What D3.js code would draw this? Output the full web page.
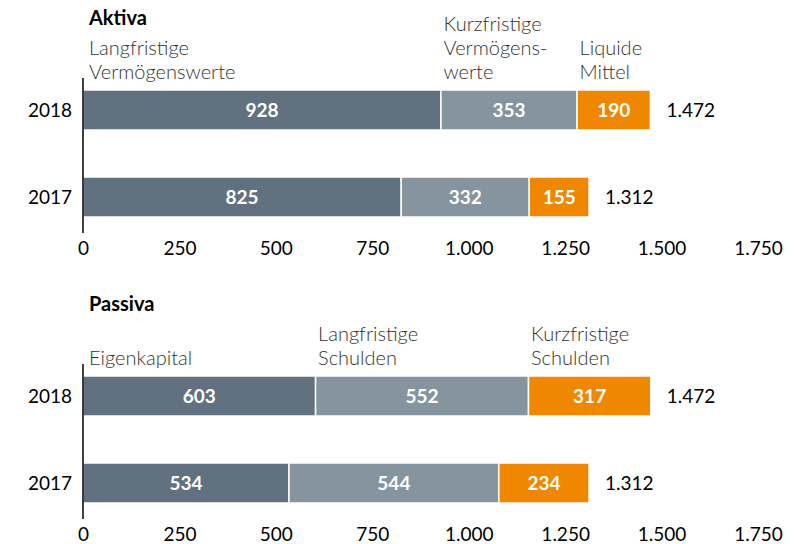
<!DOCTYPE html>
<html>
<head>
<meta charset="utf-8">
<script src="https://cdn.jsdelivr.net/npm/d3@7"></script>
<style>
  body { margin: 0; background: #fff; }
  text { font-family: "Source Sans Pro", Lato, "Open Sans", sans-serif; }
</style>
</head>
<body>
<div id="viz"></div>
<script>
var years = ["2018", "2017"];
var ticks = [0, 250, 500, 750, 1000, 1250, 1500, 1750];
var colors = ["#61717f", "#8694a0", "#f08700"];

// Aktiva
var aktivaLabels = [["Langfristige", "Vermögenswerte"], ["Kurzfristige", "Vermögens-", "werte"], ["Liquide", "Mittel"]];
var aktiva2018 = [928, 353, 190];
var aktiva2017 = [825, 332, 155];
var aktivaTotals = [1472, 1312];

// Passiva
var passivaLabels = [["Eigenkapital"], ["Langfristige", "Schulden"], ["Kurzfristige", "Schulden"]];
var passiva2018 = [603, 552, 317];
var passiva2017 = [534, 544, 234];
var passivaTotals = [1472, 1312];

var width = 803, height = 544;
var fmt = d3.formatLocale({decimal: ",", thousands: ".", grouping: [3], currency: ["", "€"]}).format(",");

var svg = d3.select("#viz").append("svg")
    .attr("width", width)
    .attr("height", height);

var x = d3.scaleLinear().domain([0, 1750]).range([83, 758]);
var barH = 40;

function panel(top, title, labels, rows, totals) {
  var g = svg.append("g").attr("transform", "translate(0," + top + ")");
  // row centres
  var y = d3.scalePoint().domain(years).range([110, 197]);

  g.append("text")
      .attr("x", 89).attr("y", 25)
      .style("font-size", "20px").style("font-weight", 700)
      .text(title);

  rows.forEach(function(vals, r) {
    var acc = 0;
    var segs = vals.map(function(v, i) { var s = {x0: acc, x1: acc + v, v: v, i: i}; acc += v; return s; });
    var cy = y(years[r]);
    var row = g.append("g");
    row.selectAll("rect").data(segs).enter().append("rect")
        .attr("x", function(d) { return x(d.x0); })
        .attr("width", function(d) { return x(d.x1) - x(d.x0); })
        .attr("y", cy - barH / 2)
        .attr("height", barH)
        .attr("fill", function(d) { return colors[d.i]; })
        .attr("stroke", "#fff")
        .attr("stroke-width", 1.5);
    row.selectAll("text.val").data(segs).enter().append("text")
        .attr("class", "val")
        .attr("x", function(d) { return (x(d.x0) + x(d.x1)) / 2; })
        .attr("y", cy)
        .attr("dy", "0.36em")
        .attr("text-anchor", "middle")
        .attr("fill", "#fff")
        .style("font-size", "19px").style("font-weight", 700)
        .text(function(d) { return fmt(d.v); });
    g.append("text")
        .attr("x", x(acc) + 16)
        .attr("y", cy)
        .attr("dy", "0.36em")
        .style("font-size", "19px")
        .text(fmt(totals[r]));
    g.append("text")
        .attr("x", 72)
        .attr("y", cy)
        .attr("dy", "0.36em")
        .attr("text-anchor", "end")
        .style("font-size", "19px")
        .text(years[r]);

    // category labels above the first row
    if (r === 0) {
      segs.forEach(function(d) {
        var lines = labels[d.i];
        var lx = x(d.x0) + (d.i === 0 ? 6 : 2.5);
        var t = g.append("text")
            .attr("fill", "#333")
            .style("font-size", "20px").style("font-weight", 300);
        lines.forEach(function(l, k) {
          t.append("tspan")
              .attr("x", lx)
              .attr("y", cy - barH / 2 - 11 - (lines.length - 1 - k) * 24)
              .text(l);
        });
      });
    }
  });

  // axis
  var axis = d3.axisBottom(x).tickValues(ticks).tickSize(0).tickPadding(9).tickFormat(fmt);
  var ag = g.append("g").attr("transform", "translate(0,233)").call(axis);
  ag.select(".domain").remove();
  ag.selectAll("text").style("font-size", "19px").attr("fill", "#000")
      .style("font-family", "\"Source Sans Pro\", Lato, \"Open Sans\", sans-serif");
  g.append("line")
      .attr("x1", x(0)).attr("x2", x(0))
      .attr("y1", 78).attr("y2", 233)
      .attr("stroke", "#000").attr("stroke-width", 1.5);
}

panel(0, "Aktiva", aktivaLabels, [aktiva2018, aktiva2017], aktivaTotals);
panel(286, "Passiva", passivaLabels, [passiva2018, passiva2017], passivaTotals);
</script>
</body>
</html>
